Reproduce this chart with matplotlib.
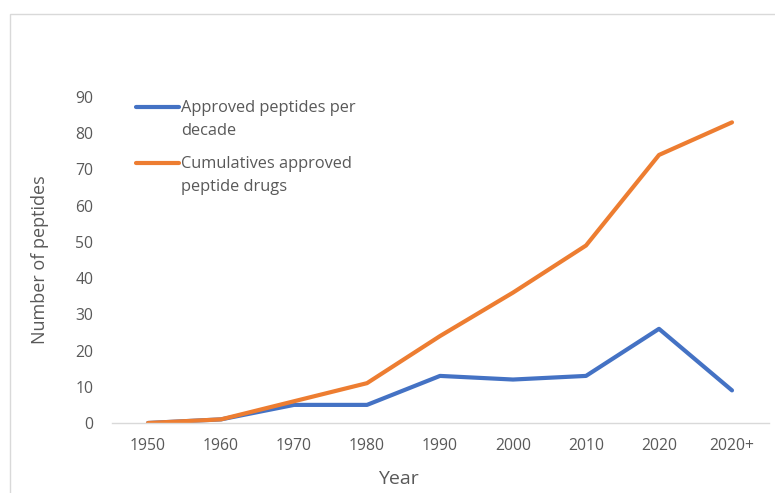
import matplotlib
matplotlib.use("Agg")
import numpy as np
import matplotlib.pyplot as plt
from matplotlib.patches import Rectangle
from matplotlib.legend_handler import HandlerLine2D

categories = ["1950", "1960", "1970", "1980", "1990", "2000", "2010", "2020", "2020+"]
approved_per_decade = [0, 1, 5, 5, 13, 12, 13, 26, 9]
cumulative_approved = [0, 1, 6, 11, 24, 36, 49, 74, 83]
yticks = [0, 10, 20, 30, 40, 50, 60, 70, 80, 90]

plt.rcParams['font.family'] = ['Open Sans', 'DejaVu Sans']
TXT = '#595959'


class TopLine(HandlerLine2D):
    def __init__(self, shift, **kw):
        super().__init__(**kw)
        self.shift = shift

    def create_artists(self, legend, orig_handle, xdescent, ydescent, width,
                       height, fontsize, trans):
        arts = super().create_artists(legend, orig_handle, xdescent, ydescent,
                                      width, height, fontsize, trans)
        for a in arts:
            a.set_ydata(np.asarray(a.get_ydata(), dtype=float) + self.shift)
        return arts


fig = plt.figure(figsize=(7.75, 4.93), dpi=100)
ax = fig.add_axes([111.5/775, 1-423/493, (768.5-111.5)/775, (423-97)/493])

x = list(range(len(categories)))
l1, = ax.plot(x, approved_per_decade, color='#4472C4', lw=3.0, solid_capstyle='round',
              solid_joinstyle='round', label='Approved peptides per\ndecade')
l2, = ax.plot(x, cumulative_approved, color='#ED7D31', lw=3.0, solid_capstyle='round',
              solid_joinstyle='round', label='Cumulatives approved\npeptide drugs')

ax.set_xlim(-0.5, len(categories) - 0.5)
ax.set_ylim(0, 90)
ax.set_xticks(x)
ax.set_xticklabels(categories)
ax.set_yticks(yticks)
ax.tick_params(axis='both', length=0, labelsize=11.3, labelcolor=TXT)
ax.tick_params(axis='y', pad=13)
ax.tick_params(axis='x', pad=11)
for s in ['top', 'right', 'left']:
    ax.spines[s].set_visible(False)
ax.spines['bottom'].set_color('#D9D9D9')
ax.spines['bottom'].set_linewidth(1.0)

ax.set_xlabel('Year', fontsize=14, color=TXT)
ax.xaxis.set_label_coords((398 - 111.5) / 657, -0.144)
ax.set_ylabel('Number of peptides', fontsize=13, color=TXT)
ax.yaxis.set_label_coords((49 - 111.5) / 657, 0.5)

shift = 9.4
leg = ax.legend(loc='upper left', bbox_to_anchor=(136/775, 1-100/493),
                bbox_transform=fig.transFigure, frameon=False, fontsize=11.8,
                handlelength=2.64, handletextpad=0.12, labelspacing=1.05,
                borderaxespad=0, borderpad=0,
                handler_map={l1: TopLine(shift), l2: TopLine(shift)})
for t in leg.get_texts():
    t.set_color(TXT)
    t.set_linespacing(1.58)

fig.patches.append(Rectangle((10/775, -0.1), 1.2, 1.1 - 14/493, transform=fig.transFigure,
                             fill=False, edgecolor='#D9D9D9', lw=1.0))

fig.savefig('out.png', dpi=100)
